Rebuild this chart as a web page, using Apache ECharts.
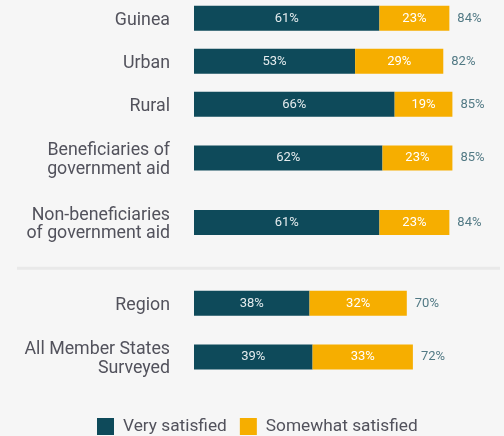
<!DOCTYPE html>
<html>
<head>
<meta charset="utf-8">
<script src="https://cdn.jsdelivr.net/npm/echarts@6/dist/echarts.min.js"></script>
<style>
  html, body { margin: 0; padding: 0; background: #f6f6f6; }
  #chart { width: 504px; height: 436px; }
</style>
</head>
<body>
<div id="chart"></div>
<script>
// ---- data ----
const categories = [
  'Guinea',
  'Urban',
  'Rural',
  'Beneficiaries of\ngovernment aid',
  'Non-beneficiaries\nof government aid',
  'Region',
  'All Member States\nSurveyed'
];
const verySatisfied = [61, 53, 66, 62, 61, 38, 39];
const somewhatSatisfied = [23, 29, 19, 23, 23, 32, 33];
const totals = [84, 82, 85, 85, 84, 70, 72];
const seriesNames = ['Very satisfied', 'Somewhat satisfied'];
const groupBreakAfter = 4; // separator after the 5th row

// ---- layout ----
const FONT = 'Roboto, "Open Sans", sans-serif';
const unit = 21.5;           // row height per half-line unit
const startY = -3.25;
const sepGap = 27;
const barH = 25;
const colors = ['#0e4a5a', '#f6ae00'];

const grids = [], xAxes = [], yAxes = [], series = [];
let y = startY;
let sepY = 0;
categories.forEach((cat, i) => {
  const lines = cat.split('\n').length;
  const rowH = unit * (lines + 1);
  const center = y + rowH / 2;
  grids.push({ left: 194, right: 6, top: center - barH / 2, height: barH });
  xAxes.push({ gridIndex: i, type: 'value', min: 0, max: 100, show: false });
  yAxes.push({
    gridIndex: i, type: 'category', data: [cat],
    axisLine: { show: false }, axisTick: { show: false },
    axisLabel: {
      margin: 24, align: 'right',
      formatter: v => v.split('\n').map(l => '{a|' + l + '}').join('\n'),
      rich: {
        a: { color: '#52525c', fontSize: 17.8, fontFamily: FONT, lineHeight: 18.6, padding: [4, 0, 0, 0], align: 'right' }
      }
    }
  });
  series.push({
    name: seriesNames[0], type: 'bar', stack: 's' + i, xAxisIndex: i, yAxisIndex: i,
    data: [verySatisfied[i]], barWidth: barH, itemStyle: { color: colors[0] },
    label: { show: true, position: 'inside', formatter: '{c}%', color: '#e4ebed', fontSize: 13, fontFamily: FONT }
  });
  series.push({
    name: seriesNames[1], type: 'bar', stack: 's' + i, xAxisIndex: i, yAxisIndex: i,
    data: [somewhatSatisfied[i]], barWidth: barH, itemStyle: { color: colors[1] },
    label: { show: true, position: 'inside', formatter: '{c}%', color: '#ffffff', fontSize: 13, fontFamily: FONT }
  });
  series.push({
    name: 'total', type: 'scatter', xAxisIndex: i, yAxisIndex: i,
    data: [[totals[i], 0]], symbolSize: 0, silent: true,
    label: { show: true, position: 'right', distance: 8, formatter: p => p.value[0] + '%', color: '#285a68', fontSize: 13, fontFamily: FONT }
  });
  y += rowH;
  if (i === groupBreakAfter) { sepY = y + sepGap / 2; y += sepGap; }
});

const chart = echarts.init(document.getElementById('chart'));
chart.setOption({
  backgroundColor: '#f6f6f6',
  animation: false,
  grid: grids, xAxis: xAxes, yAxis: yAxes, series: series,
  legend: {
    data: seriesNames, left: 97, top: 418, padding: 0, icon: 'rect',
    itemWidth: 17, itemHeight: 17, itemGap: 13,
    textStyle: { color: '#52525c', fontSize: 17.3, fontFamily: FONT, padding: [0, 0, 0, 4] }
  },
  graphic: [{
    type: 'rect', shape: { x: 17, y: sepY - 1.5, width: 483, height: 3 },
    style: { fill: '#e9e9e9' }, silent: true
  }]
});
</script>
</body>
</html>
